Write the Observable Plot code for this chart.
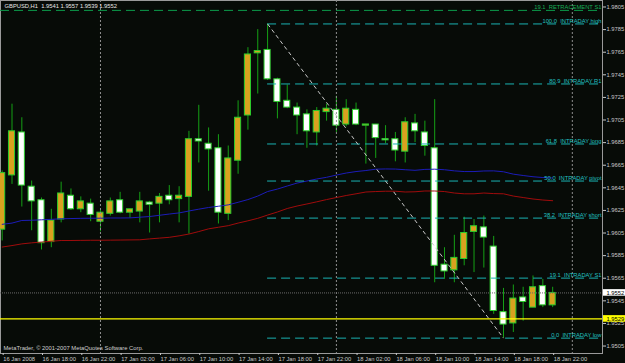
<!DOCTYPE html>
<html><head><meta charset="utf-8">
<script src="https://cdn.jsdelivr.net/npm/d3@7"></script>
<script src="https://cdn.jsdelivr.net/npm/@observablehq/plot@0.6"></script>
<style>html,body{margin:0;padding:0;background:#070b07;overflow:hidden}</style>
</head><body><div id="chart"></div>
<script>
// ---- data (hourly bars, 16 Jan 14:00 -> 18 Jan 22:00) ----
const titleText = "GBPUSD,H1  1.9541 1.9557 1.9539 1.9552";
const copyrightText = "MetaTrader, © 2001-2007 MetaQuotes Software Corp.";
const opens  = [1.9608,1.9656,1.9694,1.9646,1.9634,1.9597,1.9617,1.9638,1.9626,1.9631,1.9615,1.9622,1.9634,1.9623,1.9624,1.9632,1.9631,1.9638,1.9635,1.9637,1.9688,1.9684,1.9680,1.9622,1.9669,1.9709,1.9764,1.9767,1.9741,1.9722,1.9716,1.9710,1.9694,1.9712,1.9714,1.9701,1.9714,1.9700,1.9701,1.9688,1.9688,1.9677,1.9702,1.9694,1.9680,1.9577,1.9572,1.9582,1.9606,1.9610,1.9593,1.9535,1.9525,1.9548,1.9539,1.9558,1.9541];
const highs  = [1.9660,1.9719,1.9707,1.9651,1.9636,1.9626,1.9650,1.9644,1.9637,1.9635,1.9625,1.9636,1.9641,1.9626,1.9641,1.9633,1.9640,1.9647,1.9646,1.9695,1.9718,1.9698,1.9692,1.9682,1.9722,1.9769,1.9785,1.9790,1.9742,1.9736,1.9720,1.9714,1.9716,1.9719,1.9726,1.9723,1.9720,1.9700,1.9701,1.9700,1.9694,1.9707,1.9710,1.9704,1.9723,1.9592,1.9603,1.9619,1.9617,1.9620,1.9602,1.9556,1.9559,1.9557,1.9567,1.9564,1.9557];
const lows   = [1.9598,1.9648,1.9628,1.9607,1.9590,1.9592,1.9614,1.9625,1.9623,1.9615,1.9606,1.9620,1.9622,1.9618,1.9614,1.9605,1.9614,1.9630,1.9614,1.9604,1.9667,1.9642,1.9613,1.9616,1.9657,1.9696,1.9728,1.9740,1.9706,1.9715,1.9692,1.9680,1.9682,1.9704,1.9694,1.9699,1.9700,1.9666,1.9671,1.9684,1.9668,1.9667,1.9685,1.9673,1.9561,1.9564,1.9561,1.9576,1.9570,1.9574,1.9533,1.9512,1.9517,1.9527,1.9539,1.9539,1.9539];
const closes = [1.9658,1.9695,1.9647,1.9633,1.9596,1.9616,1.9640,1.9626,1.9633,1.9621,1.9623,1.9633,1.9623,1.9626,1.9633,1.9630,1.9637,1.9634,1.9638,1.9688,1.9686,1.9679,1.9623,1.9671,1.9707,1.9763,1.9766,1.9741,1.9721,1.9716,1.9709,1.9695,1.9713,1.9715,1.9700,1.9715,1.9701,1.9700,1.9689,1.9687,1.9678,1.9703,1.9695,1.9682,1.9576,1.9571,1.9583,1.9605,1.9611,1.9601,1.9536,1.9524,1.9547,1.9544,1.9557,1.9541,1.9552];
const maBlue = [1.96127,1.96138,1.96161,1.96163,1.96167,1.96171,1.96176,1.96178,1.96180,1.96181,1.96181,1.96183,1.96183,1.96184,1.96190,1.96196,1.96207,1.96218,1.96228,1.96245,1.96261,1.96276,1.96287,1.96299,1.96322,1.96346,1.96377,1.96417,1.96439,1.96466,1.96492,1.96510,1.96528,1.96543,1.96563,1.96581,1.96594,1.96603,1.96615,1.96617,1.96616,1.96610,1.96605,1.96613,1.96615,1.96610,1.96600,1.96594,1.96594,1.96599,1.96600,1.96592,1.96571,1.96559,1.96548,1.96541,1.96537];
const maRed  = [1.95926,1.95939,1.95954,1.95963,1.95970,1.95977,1.95984,1.95984,1.95985,1.95986,1.95986,1.95987,1.95988,1.95989,1.95990,1.95998,1.96005,1.96012,1.96025,1.96041,1.96063,1.96087,1.96101,1.96115,1.96138,1.96158,1.96180,1.96209,1.96236,1.96267,1.96289,1.96307,1.96326,1.96346,1.96364,1.96382,1.96397,1.96413,1.96417,1.96420,1.96420,1.96413,1.96415,1.96422,1.96422,1.96417,1.96404,1.96397,1.96397,1.96404,1.96399,1.96397,1.96377,1.96364,1.96351,1.96342,1.96336];
const fibValues = [1.9790,1.97369,1.96838,1.9651,1.96182,1.95651,1.9512];
const fibLabels = ["100.0  INTRADAY high","80.9  INTRADAY R1","61.8  INTRADAY long","50.0  INTRADAY pivot","38.2  INTRADAY short","19.1  INTRADAY S1","0.0  INTRADAY low"];
const fibHighBar = 27, fibLowBar = 51;
const retraceValue = 1.9802;
const retraceLabel = "19.1  RETRACEMENT S1";
const bidPrice = 1.9552;
const markerLevel = 1.9529;
const separatorBars = [10, 34, 58];
const yTicks = [1.9805,1.9785,1.9765,1.9745,1.9725,1.9705,1.9685,1.9665,1.9645,1.9625,1.9605,1.9585,1.9565,1.9545,1.9525,1.9505];
const timeLabels = ["16 Jan 2008","16 Jan 18:00","16 Jan 22:00","17 Jan 02:00","17 Jan 06:00","17 Jan 10:00","17 Jan 14:00","17 Jan 18:00","17 Jan 22:00","18 Jan 02:00","18 Jan 06:00","18 Jan 10:00","18 Jan 14:00","18 Jan 18:00","18 Jan 22:00"];
const labelEvery = 4;

// ---- build ----
const bars = opens.map((o, i) => ({i, o, h: highs[i], l: lows[i], c: closes[i]}));
const X0 = -0.17, X1 = 61.07;
const Y0 = 1.94984, Y1 = 1.981075;
const W = 625, H = 363, MR = 23, MB = 10;
const pxX = (X1 - X0) / (W - MR);
const pxY = (Y1 - Y0) / (H - MB);
const minBody = 1.2 * pxY;
const font = "'Liberation Sans', Arial, sans-serif";
const tagData = [{v: bidPrice, fill: "#ffffff"}, {v: markerLevel, fill: "#ffff00"}];

const chart = Plot.plot({
  width: W, height: H,
  marginLeft: 0, marginRight: MR, marginTop: 0, marginBottom: MB,
  style: {background: "#070b07", color: "#c8c8c8", fontFamily: font, fontSize: "5.8px", overflow: "visible"},
  x: {domain: [X0, X1], axis: null},
  y: {domain: [Y0, Y1], axis: null},
  marks: [
    Plot.frame({stroke: "#9a9a9a"}),
    // candles
    Plot.ruleX(bars, {x: "i", y1: "l", y2: "h", stroke: "#15a015", strokeWidth: 1}),
    Plot.rect(bars, {
      x1: d => d.i - 0.31, x2: d => d.i + 0.31,
      y1: d => Math.min(d.o, d.c),
      y2: d => Math.max(Math.max(d.o, d.c), Math.min(d.o, d.c) + minBody),
      fill: d => d.c >= d.o ? "#d9a21f" : "#ffffff",
      stroke: "#2ccc2c", strokeWidth: 1
    }),
    // day separators
    Plot.ruleX(separatorBars, {stroke: "#8e8e8e", strokeDasharray: "2,2"}),
    // moving averages
    Plot.line(maBlue, {x: (d, i) => i, y: d => d, stroke: "#1c1cb8", strokeWidth: 1}),
    Plot.line(maRed, {x: (d, i) => i, y: d => d, stroke: "#a00c0c", strokeWidth: 1}),
    // retracement line
    Plot.ruleY([retraceValue], {stroke: "#0c9c4c", strokeDasharray: "9,5"}),
    Plot.text([retraceLabel], {x: X1, y: retraceValue, textAnchor: "end", lineAnchor: "bottom", dx: -1, dy: -1, fill: "#18b058"}),
    // fibo levels
    Plot.ruleY(fibValues, {x1: fibHighBar, x2: X1, stroke: "#1ab2b2", strokeDasharray: "9,5"}),
    Plot.text(fibValues, {x: X1, y: d => d, text: (d, i) => fibLabels[i], textAnchor: "end", lineAnchor: "bottom", dx: -1, dy: -1, fill: "#22c0c0"}),
    Plot.link([0], {x1: fibHighBar, y1: fibValues[0], x2: fibLowBar, y2: fibValues[fibValues.length - 1], stroke: "#c8c8c8", strokeDasharray: "4,3"}),
    // price lines
    Plot.ruleY([bidPrice], {stroke: "#6a6a6a", strokeDasharray: "1,1"}),
    Plot.ruleY([markerLevel], {stroke: "#ffff00", strokeWidth: 1.2}),
    // axes
    Plot.axisY({anchor: "right", ticks: yTicks, tickFormat: d => d.toFixed(4), tickSize: 3, tickPadding: 1, label: null, fill: "#c8c8c8", stroke: "#c8c8c8"}),
    Plot.axisX({anchor: "bottom", ticks: timeLabels.map((t, k) => k * labelEvery), tickFormat: d => timeLabels[d / labelEvery], tickSize: 2, tickPadding: 1, textAnchor: "start", dx: 1, label: null, fill: "#c8c8c8", stroke: "#c8c8c8"}),
    // price tags
    Plot.rect(tagData, {x1: X1 + pxX * 1, x2: X1 + pxX * MR, y1: d => d.v - 3.3 * pxY, y2: d => d.v + 3.3 * pxY, fill: "fill"}),
    Plot.text(tagData, {x: X1, y: "v", text: d => d.v.toFixed(4), textAnchor: "start", dx: 4, fill: "#000000"}),
    // texts
    Plot.text([titleText], {frameAnchor: "top-left", dx: 4, dy: 3, fill: "#e6e6e6"}),
    Plot.text([copyrightText], {frameAnchor: "bottom-left", dx: 3, dy: -4, lineAnchor: "bottom", fill: "#d0d0d0"})
  ]
});
document.getElementById("chart").appendChild(chart);
</script>
</body></html>
